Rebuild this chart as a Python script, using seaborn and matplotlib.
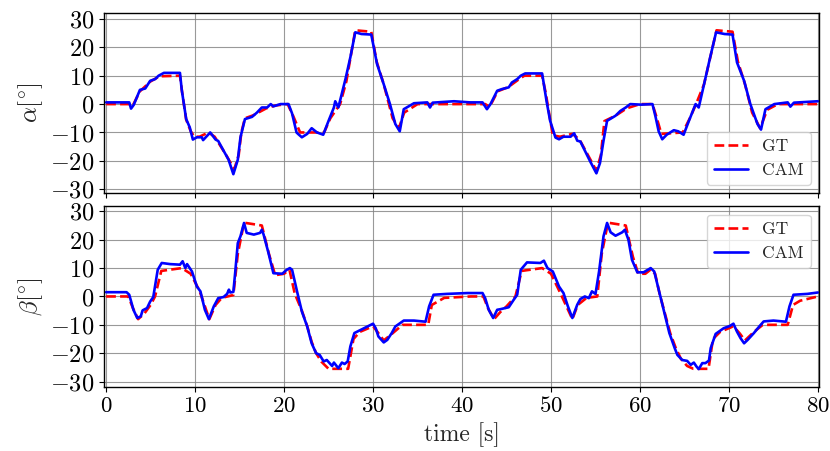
import numpy as np
import pandas as pd
import matplotlib
matplotlib.use("Agg")
import matplotlib.pyplot as plt
import seaborn as sns

# alpha angle [deg], ground truth
alpha_gt_t = [0, 2.6, 3.0, 3.8, 5, 6, 8.3, 8.55, 9.0, 9.5, 9.9, 10.5, 11.5, 12.2, 13.5, 14.4,
              14.9, 15.2, 15.6, 16.5, 18, 19, 20.4, 21, 21.8, 24.5, 25.2, 26.3, 27, 28, 29.8,
              30.4, 31.2, 32.2, 32.9, 33.5, 35, 38, 41,
              42.6, 43.1, 44, 45.2, 46.5, 47, 49, 49.4, 50.2, 51, 52.4, 53.2, 54.5, 55.1, 55.6,
              56, 57.3, 58.5, 60, 61.4, 61.8, 62.4, 64.8, 65.6, 66.3, 67.2, 68.6, 70.4, 71,
              71.8, 72.6, 73.5, 74.3, 75.5, 78, 80]
alpha_gt = [0, 0, -0.5, 4.5, 8, 9.8, 10, 4, -5.5, -9.5, -11.5, -11.5, -10, -11.5, -18, -23,
            -18, -10, -5, -4, -1.5, -0.5, 0, -4, -10, -10, -5, 0, 8, 26, 25.5,
            15, 7, -5, -8.5, -3, 0, 0, 0,
            0, -1, 4.5, 6, 9, 10, 10, 4, -11, -11.5, -10.5, -12.5, -20, -23.5, -18,
            -6, -4, -1.5, 0, 0, -4, -10.5, -10, -5, 0, 7, 26, 25.5, 15,
            7, -3, -8.5, -2, 0, 0, 0]

# alpha angle [deg], camera estimate
alpha_cam_t = [0, 2.6, 2.8, 3.1, 3.8, 4.4, 4.95, 5.5, 5.9, 6.5, 8.3, 8.5, 9.0, 9.4, 9.75,
               10.2, 10.75, 10.9, 11.7, 12.3, 12.6, 13.76, 14.3, 14.8, 15.1, 15.6, 16.4,
               16.95, 17.5, 18.1, 18.5, 18.8, 19.6, 20.5, 20.9, 21.4, 21.6, 22.0, 22.6, 23.1,
               23.7, 24.4, 25.0, 25.6, 25.75, 26.1, 26.9, 27.45, 28.0, 28.7, 29.8, 30.45,
               31.2, 31.9, 32.5, 33.0, 33.45, 34.6, 36.1, 36.4, 36.7, 39.1, 40.9,
               42.3, 42.8, 43.2, 43.95, 44.5, 45.25, 45.6, 46.2, 46.6, 47.1, 49.0, 49.5,
               49.9, 50.5, 50.9, 51.4, 52.2, 52.6, 52.95, 53.3, 54.4, 55.1, 55.5, 55.9,
               56.3, 57.25, 57.8, 58.4, 58.9, 60.1, 61.4, 61.75, 62.1, 62.5, 63.0, 63.8,
               64.3, 64.9, 65.5, 66.25, 66.6, 67.2, 67.8, 68.55, 69.5, 70.4, 70.9, 71.7,
               72.4, 73.2, 73.6, 74.1, 75.1, 76.6, 76.9, 77.3, 80]
alpha_cam = [0.6, 0.6, -1.6, -0.3, 5, 5.5, 8.2, 8.8, 10, 11, 11, 5, -5.3, -8.2, -12.5,
             -11.7, -11.7, -12.7, -10, -12.5, -13, -19.6, -24.7, -19.6, -11.7, -5.3, -4.5,
             -3, -1.2, -1.2, 0, -0.8, 0, 0, -3.3, -10, -10.6, -11.7, -10.5, -8.5,
             -10, -10.8, -5.9, -1.2, 1, -1.2, 8.8, 16.5, 25.3, 24.7, 24.5, 14.1,
             7, 0, -7, -9.6, -1.8, 0.3, 0.6, -1.2, 0.5, 1, 0.6,
             0.6, -1.8, 0, 4.7, 5.3, 5.9, 7.6, 8.8, 10, 10.8, 10.8, 1,
             -5.9, -11.8, -12.4, -11.5, -11.5, -10.3, -12.9, -13.2, -20.2, -24.4, -20.8, -12.9,
             -5.9, -4.1, -2.4, -1.2, 0, -0.2, 0, -4.5, -9.6, -12.4, -10.8, -9.2,
             -9.6, -10.8, -5.9, 0, -1.2, 7, 15.3, 25.3, 24.7, 24.5, 14.7, 8.2,
             0, -7, -9, -1.8, 0, 0.6, -0.9, 0.5, 1]

# beta angle [deg], ground truth
beta_gt_t = [0, 2.5, 3.0, 3.6, 4.3, 5, 5.5, 6.2, 8.5, 9.5, 10.5, 11.6, 12.3, 13, 14.3, 14.8,
             15.5, 17.5, 18.3, 19, 20, 20.6, 21.2, 22, 22.6, 23.1, 23.6, 24.2, 25, 27.2,
             27.8, 28.5, 30, 30.5, 31.2, 32, 33.3, 36.2, 36.6, 38, 41,
             42.4, 42.9, 43.6, 44.3, 45, 46, 46.7, 49, 50, 51, 52.4, 53, 54, 55.2, 55.7,
             56.4, 58.4, 59.2, 59.8, 60.6, 61.2, 61.7, 62.2, 62.8, 63.4, 64, 64.6, 65.3,
             66, 67.7, 68.2, 69, 70.5, 71.2, 71.8, 72.8, 73.8, 76.6, 77.2, 78, 80]
beta_gt = [0, 0, -4, -8, -6, -3, 0, 9, 10, 8, 2, -8, -3, -0.5, 0.5, 15,
           26, 25, 15, 7.5, 8, 9.5, 1, -5, -10.5, -16, -20, -23, -25.5, -25.5,
           -15, -12.5, -10.5, -12.5, -15.5, -13.5, -10, -10, -3, -0.5, 0,
           0, -4, -8, -5.5, -3.5, 0, 9, 10, 8, 1.5, -8, -3, -0.5, 0, 15,
           26, 25, 14, 8, 8, 9.5, 8, 1, -6, -13, -18, -22, -24.5,
           -25.5, -25.5, -15, -12.5, -10.5, -13, -15.5, -12.5, -10, -10, -3, -1.5, 0]

# beta angle [deg], camera estimate
beta_cam_t = [0, 2.3, 2.6, 3.07, 3.5, 3.9, 4.1, 4.6, 4.95, 5.3, 5.8, 6.25, 7.2, 8.3, 8.6,
              8.9, 9.1, 9.65, 10.2, 10.6, 11.1, 11.55, 12.1, 12.6, 13.2, 13.6, 13.8, 13.95,
              14.3, 14.5, 14.8, 15.1, 15.5, 15.8, 16.6, 17.3, 17.5, 17.7, 18.25, 18.8, 19.8,
              20.3, 20.65, 20.9, 21.5, 22.0, 22.6, 23.1, 23.6, 24.0, 24.45, 24.8, 25.4,
              25.6, 26.1, 26.5, 26.8, 27.15, 27.45, 27.9, 28.6, 29.5, 30.0, 30.3, 30.6,
              31.2, 31.6, 32.1, 32.5, 33.45, 34.6, 35.9, 36.3, 36.8, 38.3, 40.6,
              42.3, 42.6, 43.0, 43.5, 43.95, 44.3, 45.25, 45.8, 46.2, 46.6, 47.3, 48.8,
              49.2, 49.6, 49.9, 50.2, 50.9, 51.4, 51.9, 52.4, 52.95, 53.3, 53.8, 54.25,
              54.6, 55.0, 55.4, 55.9, 56.3, 56.7, 57.25, 58.0, 58.3, 58.7, 59.1, 59.7,
              60.4, 61.2, 61.6, 62.1, 62.7, 63.3, 63.9, 64.2, 64.75, 65.3, 65.7, 66.05,
              66.35, 66.6, 67.0, 67.35, 67.75, 67.95, 68.5, 69.4, 70.1, 70.5, 70.9, 71.3,
              71.7, 72.1, 72.8, 73.4, 73.9, 75.0, 76.4, 76.8, 77.25, 78.8, 80]
beta_cam = [1.5, 1.5, 0.6, -4.7, -7.6, -7, -4.9, -4.1, -1.8, -0.2, 9.4, 11.8, 11.4, 11.2, 12.4,
            10, 11.4, 8.8, 3.5, 1.8, -4.7, -8, -3.5, -0.6, -0.2, 0.9, 2.4, 1.4,
            1.6, 8.2, 18.8, 21.2, 25.9, 22.4, 21.8, 22.4, 23.5, 21.8, 15.3, 8.2, 8,
            9.4, 10, 9.4, 1.2, -5.3, -10.6, -16.5, -20, -20.6, -22.9, -22.4, -24.5,
            -23.3, -25.3, -23.3, -23.8, -22.9, -17.6, -12.9, -11.8, -10.4, -9.6, -11.2, -14.1,
            -16.2, -15.3, -12.9, -10.6, -8.5, -8.5, -8.9, -3.5, 0.6, 0.9, 1.2,
            1.2, -0.6, -4.7, -7.6, -4.7, -4.5, -3.8, -1.2, 0.6, 9.4, 12, 11.8,
            12.6, 10, 9.4, 8.8, 3.5, 1.2, -3.5, -7.6, -2.9, -0.9, 0, -0.6,
            1.8, 0.9, 8.8, 21.2, 25.9, 22.6, 21.4, 22.6, 23.5, 20, 12.9, 8.5,
            8.5, 10, 8.8, 2.4, -5.3, -12.9, -18.2, -20.6, -22.4, -22.7, -24.1, -23.3,
            -24.7, -25.6, -23.5, -23.5, -22.6, -18.2, -13.2, -11.2, -10.4, -9.6, -12.4, -14.7,
            -16.5, -15.3, -12.9, -10.6, -8.8, -8.5, -8.9, -3.5, 0.6, 0.9, 1.4]

sns.set_style("ticks")
plt.rcParams['font.family'] = ['cmr10', 'DejaVu Serif']
plt.rcParams['mathtext.fontset'] = 'cm'
plt.rcParams['axes.formatter.use_mathtext'] = True
plt.rcParams['axes.unicode_minus'] = True
plt.rcParams['axes.edgecolor'] = 'black'
plt.rcParams['xtick.color'] = 'black'
plt.rcParams['ytick.color'] = 'black'

fig, axes = plt.subplots(2, 1, sharex=True, figsize=(8.3, 4.51), dpi=100)
plt.subplots_adjust(left=0.1257, right=0.9871, top=0.9718, bottom=0.1426, hspace=0.069)

panels = [
    (axes[0], alpha_gt_t, alpha_gt, alpha_cam_t, alpha_cam, r'$\alpha[^{\circ}]$', 'lower right', (-31.5, 32.2)),
    (axes[1], beta_gt_t, beta_gt, beta_cam_t, beta_cam, r'$\beta[^{\circ}]$', 'upper right', (-31.8, 31.9)),
]

for ax, gt_t, gt, cam_t, cam, ylab, loc, ylim in panels:
    ax.grid(True, color='0.5', linewidth=0.8, alpha=0.8)
    sns.lineplot(x=gt_t, y=gt, ax=ax, color='red', linestyle='--', linewidth=1.9,
                 label='GT', estimator=None, sort=False)
    sns.lineplot(x=cam_t, y=cam, ax=ax, color='blue', linewidth=1.9,
                 label='CAM', estimator=None, sort=False)
    ax.set_ylim(*ylim)
    ax.set_yticks([-30, -20, -10, 0, 10, 20, 30])
    ax.set_ylabel(ylab, fontsize=18, labelpad=4)
    ax.tick_params(axis='y', labelsize=17.5)
    ax.tick_params(axis='x', labelsize=16.5)
    ax.tick_params(direction='out', length=3.5, width=0.8)
    for s in ax.spines.values():
        s.set_visible(True)
        s.set_linewidth(1.0)
    ax.legend(loc=loc, fontsize=12.5, framealpha=0.8, edgecolor='0.8')

axes[1].set_xlim(-0.2, 80.15)
axes[1].set_xticks([0, 10, 20, 30, 40, 50, 60, 70, 80])
axes[1].set_xlabel('time [s]', fontsize=17, labelpad=4)

plt.savefig('out.png', dpi=100)
plt.close()
